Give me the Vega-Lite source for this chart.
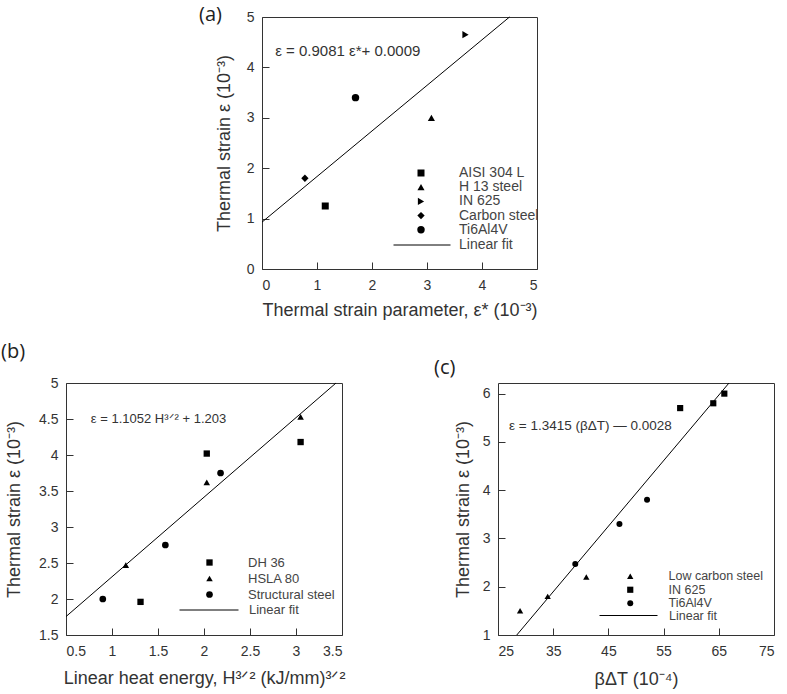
{
  "$schema": "https://vega.github.io/schema/vega-lite/v6.json",
  "padding": {"left": 0, "top": 4, "right": 5, "bottom": 5},
  "background": "white",
  "config": {
    "view": {"stroke": "#333", "strokeWidth": 1},
    "font": "Liberation Sans",
    "axis": {
      "grid": false,
      "domain": false,
      "tickSize": -7,
      "tickColor": "#333",
      "labelFont": "Liberation Sans",
      "labelFontSize": 14,
      "labelColor": "#333",
      "labelOverlap": false,
      "titleFont": "Liberation Sans",
      "titleFontSize": 18,
      "titleFontWeight": "normal",
      "titleColor": "#333"
    },
    "axisX": {"labelPadding": 16},
    "axisY": {"labelPadding": 15},
    "legend": {
      "labelFont": "Liberation Sans",
      "labelFontSize": 13,
      "labelColor": "#444",
      "padding": 0,
      "title": null
    },
    "title": {"font": "Open Sans", "fontSize": 20, "fontWeight": "normal", "color": "#222", "anchor": "start", "frame": "group"}
  },
  "vconcat": [
    {
      "hconcat": [
        {
          "width": 1,
          "height": 252,
          "data": {"values": [{}]},
          "mark": {"type": "point", "opacity": 0},
          "encoding": {},
          "view": {"stroke": null}
        },
        {
          "width": 275,
          "height": 252,
          "title": {"text": "(a)", "dx": -63, "dy": 19},
          "encoding": {
            "x": {"field": "x", "type": "quantitative", "scale": {"domain": [0, 5], "nice": false}, "axis": {"values": [0, 1, 2, 3, 4, 5], "labelOverlap": false, "title": "Thermal strain parameter, ε* (10⁻³)", "titlePadding": 9}},
            "y": {"field": "y", "type": "quantitative", "scale": {"domain": [0, 5], "nice": false}, "axis": {"values": [0, 1, 2, 3, 4, 5], "labelOverlap": false, "title": "Thermal strain ε (10⁻³)", "titlePadding": 13}}
          },
          "layer": [
            {
              "data": {"values": [
                {"x": 1.15, "y": 1.25, "material": "AISI 304 L"},
                {"x": 3.08, "y": 3.0, "material": "H 13 steel"},
                {"x": 3.7, "y": 4.65, "material": "IN 625"},
                {"x": 0.78, "y": 1.8, "material": "Carbon steel"},
                {"x": 1.7, "y": 3.4, "material": "Ti6Al4V"}
              ]},
              "mark": {"type": "point", "filled": true, "opacity": 1, "color": "black"},
              "encoding": {
                "shape": {"field": "material", "type": "nominal",
                  "scale": {"domain": ["AISI 304 L", "H 13 steel", "IN 625", "Carbon steel", "Ti6Al4V"], "range": ["square", "triangle-up", "triangle-right", "diamond", "circle"]},
                  "legend": {"orient": "none", "legendX": 152, "legendY": 149, "labelOffset": 31, "rowPadding": 0.2, "labelFontSize": 14, "symbolFillColor": "black", "symbolStrokeWidth": 0}},
                "size": {"field": "material", "type": "nominal",
                  "scale": {"domain": ["AISI 304 L", "H 13 steel", "IN 625", "Carbon steel", "Ti6Al4V"], "range": [49, 55, 55, 55, 70]}}
              }
            },
            {
              "data": {"values": [{"x": 0, "y": 0.93}, {"x": 4.5, "y": 5.0}]},
              "mark": {"type": "line", "strokeWidth": 1},
              "encoding": {
                "color": {"datum": "Linear fit", "scale": {"range": ["black"]},
                  "legend": {"orient": "none", "legendX": 131, "legendY": 199, "symbolType": "stroke", "symbolSize": 3249, "symbolStrokeWidth": 1, "labelOffset": 8, "labelFontSize": 14}}
              }
            },
            {
              "data": {"values": [{"x": 0.24, "y": 4.33, "label": "ε = 0.9081 ε*+ 0.0009"}]},
              "mark": {"type": "text", "align": "left", "baseline": "middle", "fontSize": 15, "color": "#333", "font": "Liberation Sans"},
              "encoding": {
                "text": {"field": "label"}
              }
            }
          ]
        }
      ],
      "spacing": 195,
      "bounds": "flush",
      "resolve": {"scale": {"shape": "independent", "size": "independent", "color": "independent"}, "legend": {"shape": "independent", "size": "independent", "color": "independent"}}
    },
    {
      "hconcat": [
        {
          "width": 276,
          "height": 252,
          "title": {"text": "(b)", "dx": -65, "dy": -10},
          "encoding": {
            "x": {"field": "x", "type": "quantitative", "scale": {"domain": [0.5, 3.5], "nice": false}, "axis": {"values": [0.5, 1, 1.5, 2, 2.5, 3, 3.5], "labelOverlap": false, "labelExpr": "toString(datum.value)", "title": "Linear heat energy, H³ᐟ² (kJ/mm)³ᐟ²", "titlePadding": 11}},
            "y": {"field": "y", "type": "quantitative", "scale": {"domain": [1.5, 5], "nice": false}, "axis": {"values": [1.5, 2, 2.5, 3, 3.5, 4, 4.5, 5], "labelOverlap": false, "labelExpr": "toString(datum.value)", "title": "Thermal strain ε (10⁻³)", "titlePadding": 15}}
          },
          "layer": [
            {
              "data": {"values": [
                {"x": 2.03, "y": 4.02, "material": "DH 36"},
                {"x": 3.05, "y": 4.18, "material": "DH 36"},
                {"x": 1.31, "y": 1.96, "material": "DH 36"},
                {"x": 1.15, "y": 2.47, "material": "HSLA 80"},
                {"x": 2.03, "y": 3.62, "material": "HSLA 80"},
                {"x": 3.05, "y": 4.53, "material": "HSLA 80"},
                {"x": 0.9, "y": 2.0, "material": "Structural steel"},
                {"x": 1.58, "y": 2.75, "material": "Structural steel"},
                {"x": 2.18, "y": 3.75, "material": "Structural steel"}
              ]},
              "mark": {"type": "point", "filled": true, "opacity": 1, "color": "black"},
              "encoding": {
                "shape": {"field": "material", "type": "nominal",
                  "scale": {"domain": ["DH 36", "HSLA 80", "Structural steel"], "range": ["square", "triangle-up", "circle"]},
                  "legend": {"orient": "none", "legendX": 137, "legendY": 173, "labelOffset": 32, "rowPadding": 2, "symbolFillColor": "black", "symbolStrokeWidth": 0}},
                "size": {"field": "material", "type": "nominal",
                  "scale": {"domain": ["DH 36", "HSLA 80", "Structural steel"], "range": [40, 45, 60]}}
              }
            },
            {
              "data": {"values": [{"x": 0.5, "y": 1.756}, {"x": 3.435, "y": 5.0}]},
              "mark": {"type": "line", "strokeWidth": 1},
              "encoding": {
                "color": {"datum": "Linear fit", "scale": {"range": ["black"]},
                  "legend": {"orient": "none", "legendX": 113, "legendY": 197, "symbolType": "stroke", "symbolSize": 3481, "symbolStrokeWidth": 1, "labelOffset": 10}}
              }
            },
            {
              "data": {"values": [{"x": 0.77, "y": 4.5, "label": "ε = 1.1052 H³ᐟ² + 1.203"}]},
              "mark": {"type": "text", "align": "left", "baseline": "middle", "fontSize": 13, "color": "#333", "font": "Liberation Sans"},
              "encoding": {
                "text": {"field": "label"}
              }
            }
          ]
        },
        {
          "width": 276,
          "height": 252,
          "title": {"text": "(c)", "dx": -64, "dy": 1},
          "encoding": {
            "x": {"field": "x", "type": "quantitative", "scale": {"domain": [25, 75], "nice": false}, "axis": {"values": [25, 35, 45, 55, 65, 75], "labelOverlap": false, "title": "βΔT (10⁻⁴)", "titlePadding": 12}},
            "y": {"field": "y", "type": "quantitative", "scale": {"domain": [1, 6.22], "nice": false}, "axis": {"values": [1, 2, 3, 4, 5, 6], "labelOverlap": false, "title": "Thermal strain ε (10⁻³)", "titlePadding": 10}}
          },
          "layer": [
            {
              "data": {"values": [
                {"x": 29, "y": 1.5, "material": "Low carbon steel"},
                {"x": 34, "y": 1.8, "material": "Low carbon steel"},
                {"x": 41, "y": 2.2, "material": "Low carbon steel"},
                {"x": 58, "y": 5.7, "material": "IN 625"},
                {"x": 64, "y": 5.8, "material": "IN 625"},
                {"x": 66, "y": 6.0, "material": "IN 625"},
                {"x": 39, "y": 2.47, "material": "Ti6Al4V"},
                {"x": 47, "y": 3.3, "material": "Ti6Al4V"},
                {"x": 52, "y": 3.8, "material": "Ti6Al4V"}
              ]},
              "mark": {"type": "point", "filled": true, "opacity": 1, "color": "black"},
              "encoding": {
                "shape": {"field": "material", "type": "nominal",
                  "scale": {"domain": ["Low carbon steel", "IN 625", "Ti6Al4V"], "range": ["triangle-up", "square", "circle"]},
                  "legend": {"orient": "none", "legendX": 126, "legendY": 187, "labelOffset": 32, "rowPadding": 0.5, "labelFontSize": 12.5, "symbolFillColor": "black", "symbolStrokeWidth": 0}},
                "size": {"field": "material", "type": "nominal",
                  "scale": {"domain": ["Low carbon steel", "IN 625", "Ti6Al4V"], "range": [40, 36, 55]}}
              }
            },
            {
              "data": {"values": [{"x": 28.4, "y": 1.0}, {"x": 66.85, "y": 6.22}]},
              "mark": {"type": "line", "strokeWidth": 1},
              "encoding": {
                "color": {"datum": "Linear fit", "scale": {"range": ["black"]},
                  "legend": {"orient": "none", "legendX": 101, "legendY": 203, "symbolType": "stroke", "symbolSize": 3364, "symbolStrokeWidth": 1, "labelOffset": 11, "labelFontSize": 12.5}}
              }
            },
            {
              "data": {"values": [{"x": 27, "y": 5.33, "label": "ε = 1.3415 (βΔT) — 0.0028"}]},
              "mark": {"type": "text", "align": "left", "baseline": "middle", "fontSize": 13.5, "color": "#333", "font": "Liberation Sans"},
              "encoding": {
                "text": {"field": "label"}
              }
            }
          ]
        }
      ],
      "spacing": 156,
      "bounds": "flush",
      "resolve": {"scale": {"shape": "independent", "size": "independent", "color": "independent"}, "legend": {"shape": "independent", "size": "independent", "color": "independent"}}
    }
  ],
  "spacing": 366,
  "bounds": "flush",
  "resolve": {"scale": {"shape": "independent", "size": "independent", "color": "independent"}, "legend": {"shape": "independent", "size": "independent", "color": "independent"}}
}
